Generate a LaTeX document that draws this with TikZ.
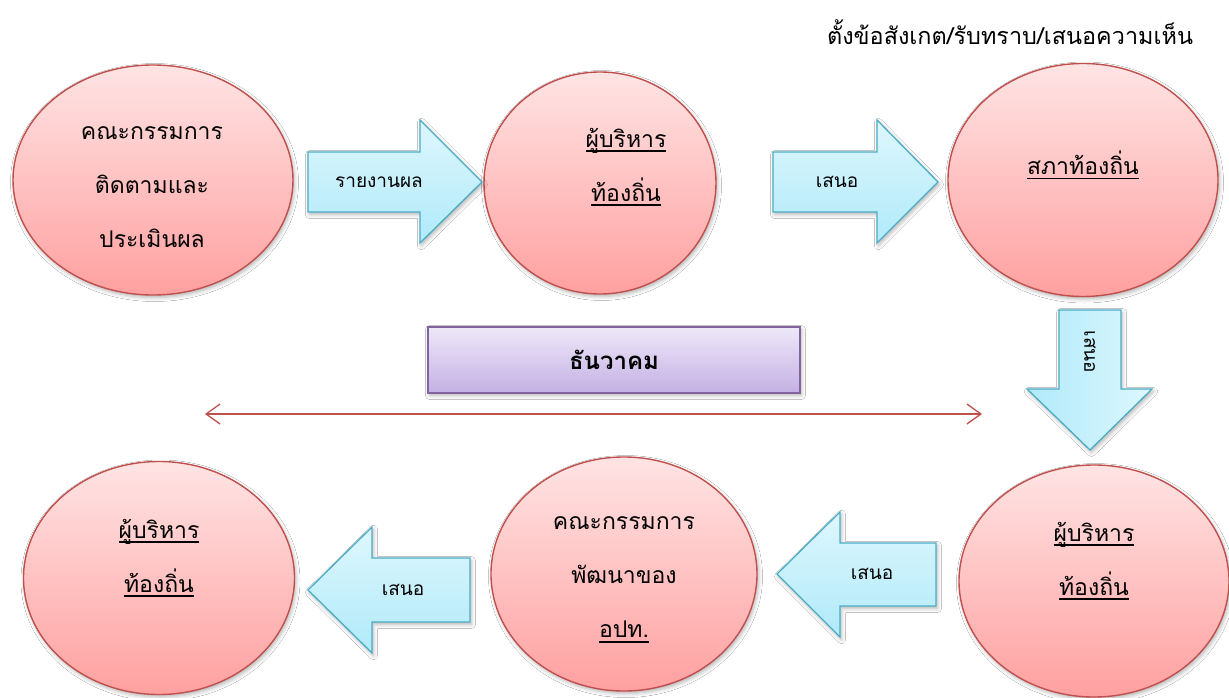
\documentclass[tikz,border=0pt]{standalone}
\usepackage{fontspec}
\setmainfont[Script=Thai]{Loma}
\usetikzlibrary{shapes.geometric,shadows.blur,arrows.meta}
\definecolor{ered}{RGB}{192,80,77}
\definecolor{etop}{RGB}{255,228,228}
\definecolor{ebot}{RGB}{255,160,160}
\definecolor{ablue}{RGB}{75,172,198}
\definecolor{alight}{RGB}{222,247,254}
\definecolor{adark}{RGB}{176,234,249}
\definecolor{pborder}{RGB}{128,100,162}
\definecolor{ptop}{RGB}{238,232,248}
\definecolor{pbot}{RGB}{196,176,228}
\newcommand{\thul}[1]{\setbox0=\hbox{#1}\leavevmode\rlap{\rule[-5pt]{\wd0}{1.8pt}}\box0}
\tikzset{
  softshadow/.style={blur shadow={shadow xshift=1.5pt, shadow yshift=-2.5pt, shadow blur radius=4pt, shadow opacity=30}},
  ell/.style={ellipse, draw=ered, line width=1.4pt, top color=etop, bottom color=ebot, inner sep=0pt, softshadow},
  etext/.style={font=\fontsize{23}{54}\selectfont, align=center, inner sep=0pt, text=black},
  barrowh/.style={draw=ablue, line width=1.3pt, top color=alight, bottom color=adark, line join=miter, softshadow},
  barrowv/.style={draw=ablue, line width=1.3pt, left color=adark, right color=alight, line join=miter, softshadow},
  atext/.style={font=\fontsize{19}{21}\selectfont, inner sep=0pt, text=black},
  pbox/.style={draw=pborder, line width=1.5pt, top color=ptop, bottom color=pbot, minimum width=372pt, minimum height=66pt, inner sep=0pt, softshadow, font=\fontsize{24}{27}\selectfont\bfseries}
}
\begin{document}
\begin{tikzpicture}[x=1pt,y=-1pt]
\fill[white] (0,0) rectangle (1229,698);
\useasboundingbox (0,0) rectangle (1229,698);

% ellipses
\node[ell, minimum width=280pt, minimum height=230pt] (e1) at (153,180) {};
\node[ell, minimum width=232pt, minimum height=222pt] (e2) at (600,183) {};
\node[ell, minimum width=270pt, minimum height=233pt] (e3) at (1083,180) {};
\node[ell, minimum width=270pt, minimum height=232pt] (e4) at (1094,581) {};
\node[ell, minimum width=266pt, minimum height=234pt] (e5) at (624,574) {};
\node[ell, minimum width=271pt, minimum height=233pt] (e6) at (159,578) {};

\node[etext] (t1) at (152,187) {คณะกรรมการ\\ติดตามและ\\ประเมินผล};
\node[etext] (t2) at (626,167) {\thul{ผู้บริหาร}\\\thul{ท้องถิ่น}};
\node[etext] (t3) at (1083,165) {\thul{สภาท้องถิ่น}};
\node[etext] (t4) at (1094,561) {\thul{ผู้บริหาร}\\\thul{ท้องถิ่น}};
\node[etext] (t5) at (624,580) {คณะกรรมการ\\พัฒนาของ\\\thul{อปท.}};
\node[etext] (t6) at (159,558) {\thul{ผู้บริหาร}\\\thul{ท้องถิ่น}};

% block arrows
\path[barrowh] (308,152) -- (420,152) -- (420,120) -- (482,182) -- (420,243) -- (420,212) -- (308,212) -- cycle;
\path[barrowh] (773,152) -- (877,152) -- (877,120) -- (938,182) -- (877,243) -- (877,212) -- (773,212) -- cycle;
\path[barrowv] (1059,310) -- (1121,310) -- (1121,389) -- (1152,389) -- (1090,450) -- (1027,389) -- (1059,389) -- cycle;
\path[barrowh] (777,574) -- (840,512) -- (840,543) -- (936,543) -- (936,606) -- (840,606) -- (840,637) -- cycle;
\path[barrowh] (308,590) -- (372,527) -- (372,558) -- (470,558) -- (470,622) -- (372,622) -- (372,653) -- cycle;

\node[atext] (l1) at (379,182) {รายงานผล};
\node[atext] (l2) at (837,182) {เสนอ};
\node[atext, rotate=-90] (l3) at (1090,352) {เสนอ};
\node[atext] (l4) at (872,574) {เสนอ};
\node[atext] (l5) at (403,590) {เสนอ};

% purple box
\node[pbox] (month) at (614,360) {ธันวาคม};

% double arrow
\coordinate (dl) at (205,414);
\coordinate (dr) at (982,414);
\draw[ered, line width=1.3pt, {Straight Barb[length=14pt,width=20pt]}-{Straight Barb[length=14pt,width=20pt]}] (dl) -- (dr);

% top-right note
\node[font=\fontsize{23.4}{26}\selectfont, inner sep=0pt, text=black] (note) at (1010,32) {ตั้งข้อสังเกต/รับทราบ/เสนอความเห็น};
\end{tikzpicture}
\end{document}
